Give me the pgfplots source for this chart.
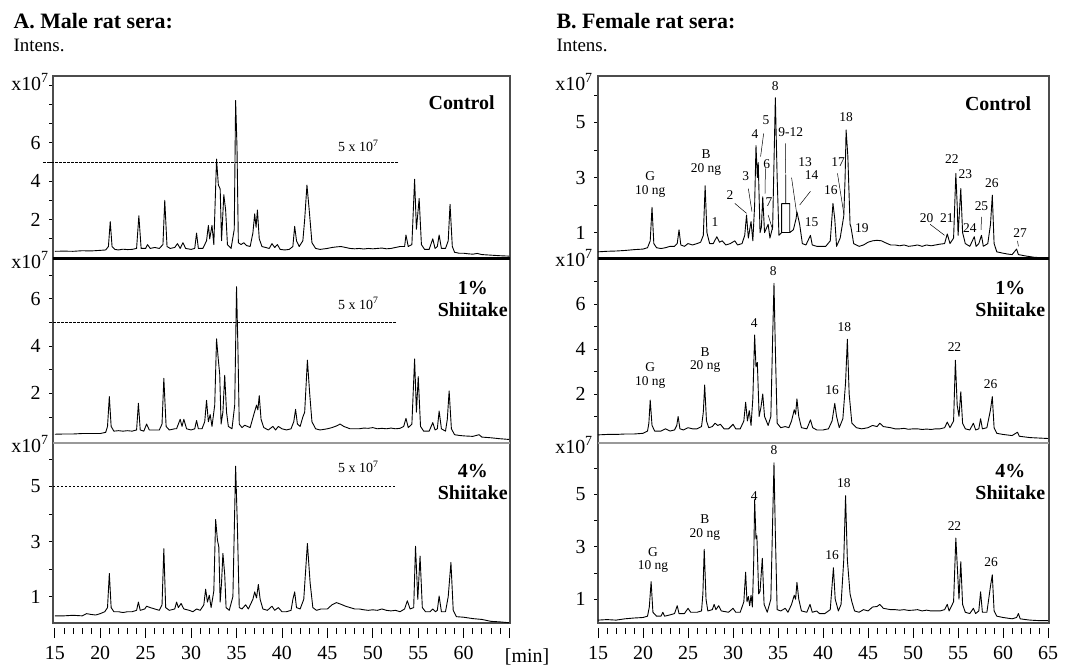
\documentclass[border=0pt]{standalone}
\usepackage{fontspec}
\setmainfont{Liberation Serif}
\usepackage{pgfplots}
\pgfplotsset{compat=1.18}

\newcommand\pk{\fontsize{13.5}{13.5}\selectfont}
\newcommand\ftick{\fontsize{20}{20}\selectfont}
\newcommand\fpanel{\fontsize{20}{22}\selectfont\bfseries}
\newcommand\fdash{\fontsize{14}{14}\selectfont}

\pgfplotsset{
  chrom/.style={
    scale only axis, clip=false, anchor=south west,
    axis line style={black!70, line width=1.2bp},
    xtick=\empty,
    ytick pos=left, tick align=outside,
    major tick length=4bp,
    tick style={black, line width=0.7bp},
    yticklabel style={font=\ftick, xshift=-5bp},
    /pgf/number format/assume math mode=true,
  },
  timescale/.style={
    scale only axis, anchor=south west, height=1bp,
    ymin=0, ymax=1, axis y line=none, axis x line*=bottom,
    x axis line style={draw=none},
    xtick={15,20,...,65}, minor xtick={16,...,64},
    tick align=outside, major tick length=10bp, minor tick length=6bp,
    tick style={black, line width=0.8bp},
    xticklabel style={font=\ftick, yshift=-5bp},
    /pgf/number format/assume math mode=true,
  },
}
\tikzset{
  trace/.style={black, line width=0.9bp, line join=round},
  ref/.style={black, line width=0.6bp, dash pattern=on 2.5bp off 1.5bp},
  lead/.style={black, line width=0.5bp},
}

\begin{document}
\begin{tikzpicture}
\useasboundingbox (0,0) rectangle (1085bp,671bp);

% ---------------- A. Male rat sera ----------------
\node[anchor=west, font=\fontsize{22}{22}\selectfont\bfseries] at (10bp,650bp) {A. Male rat sera:};
\node[anchor=west, font=\fontsize{19}{19}\selectfont] at (10bp,626bp) {Intens.};

% Control
\begin{axis}[chrom, at={(53bp,412bp)}, width=457bp, height=183bp,
  xmin=14.8, xmax=65.1, ymin=-0.05, ymax=9.48,
  ytick={1,...,9}, yticklabels={,2,,4,,6,,,}]
\addplot[trace] coordinates {(15,0.35)(16,0.36)(17,0.35)(18,0.38)(19,0.37)(20,0.4)(20.6,0.42)(20.9,0.6)(21.1,1.9)(21.3,0.6)(21.6,0.45)(22,0.42)(22.5,0.46)(23,0.44)(23.5,0.45)(24,0.5)(24.25,2.2)(24.5,0.5)(25,0.5)(25.2,0.7)(25.5,0.5)(26,0.55)(26.5,0.5)(26.9,0.7)(27.1,3.0)(27.35,0.6)(27.7,0.5)(28.2,0.55)(28.5,0.75)(28.8,0.5)(29.1,0.8)(29.4,0.5)(30,0.45)(30.4,0.5)(30.6,1.3)(30.8,0.5)(31.3,0.5)(31.7,0.9)(31.9,1.7)(32.05,1.0)(32.3,1.7)(32.5,0.7)(32.8,5.15)(33.0,3.8)(33.2,3.6)(33.35,0.9)(33.6,3.3)(33.8,2.5)(34.0,0.7)(34.4,0.5)(34.75,1.5)(34.9,8.2)(35.05,5.8)(35.2,0.8)(35.5,0.7)(35.8,0.8)(36.1,0.65)(36.5,0.6)(36.8,1.3)(37.0,2.3)(37.15,1.6)(37.3,2.5)(37.5,1.0)(37.8,0.6)(38.2,0.55)(38.6,0.5)(38.9,0.75)(39.2,0.55)(39.5,0.7)(39.8,0.45)(40.3,0.42)(40.8,0.45)(41.2,0.6)(41.4,1.65)(41.6,0.9)(41.9,0.6)(42.3,0.9)(42.5,2.0)(42.75,3.8)(43.0,2.5)(43.3,0.8)(43.7,0.5)(44.2,0.45)(45,0.5)(45.5,0.55)(46,0.58)(46.5,0.6)(47,0.55)(47.5,0.5)(48,0.48)(48.5,0.5)(49,0.47)(49.5,0.5)(50,0.48)(50.5,0.5)(51,0.52)(51.5,0.48)(52,0.5)(52.5,0.55)(53,0.6)(53.5,0.6)(53.65,1.2)(53.9,0.6)(54.3,0.7)(54.6,4.1)(54.8,1.5)(55.1,3.1)(55.35,0.7)(55.7,0.45)(56.2,0.45)(56.6,1.0)(56.85,0.5)(57.1,0.6)(57.3,1.2)(57.55,0.5)(58,0.5)(58.3,0.9)(58.5,2.8)(58.75,0.6)(59,0.3)(59.5,0.25)(60,0.25)(60.5,0.22)(61,0.2)(61.5,0.24)(62,0.18)(63,0.15)(64,0.12)(65,0.1)};
\draw[ref] (axis cs:13.7,5) -- (axis cs:52.8,5);
\node[font=\fdash] at (axis cs:48.4,5.83) {5 x 10\textsuperscript{7}};
\node[font=\fpanel, anchor=east] at (axis cs:63.8,8.07) {Control};
\end{axis}

% 1% Shiitake
\begin{axis}[chrom, at={(53bp,228bp)}, width=457bp, height=184bp,
  xmin=14.8, xmax=65.1, ymin=-0.1, ymax=7.67,
  ytick={1,...,7}, yticklabels={,2,,4,,6,}]
\addplot[trace] coordinates {(15,0.27)(16,0.28)(17,0.28)(18,0.3)(19,0.3)(20,0.3)(20.6,0.35)(20.8,0.6)(21.0,1.86)(21.2,0.6)(21.5,0.4)(22,0.42)(22.5,0.4)(23,0.42)(23.5,0.4)(24.0,0.45)(24.2,1.58)(24.4,0.45)(24.8,0.4)(25.1,0.7)(25.4,0.45)(26,0.45)(26.5,0.45)(26.8,0.7)(27.0,2.63)(27.25,0.6)(27.6,0.45)(28.2,0.5)(28.4,0.5)(28.8,0.9)(29.0,0.6)(29.2,0.9)(29.5,0.5)(30,0.45)(30.4,0.5)(30.6,0.85)(30.8,0.5)(31.2,0.5)(31.5,0.8)(31.7,1.7)(31.9,0.8)(32.1,1.1)(32.3,0.6)(32.6,1.5)(32.8,4.3)(33.0,3.4)(33.15,2.8)(33.3,0.7)(33.5,1.2)(33.7,2.76)(33.9,1.2)(34.1,0.6)(34.5,0.5)(34.8,1.5)(35.0,6.5)(35.15,4.0)(35.3,0.7)(35.6,0.55)(35.9,0.65)(36.2,0.6)(36.5,0.55)(36.9,1.1)(37.2,1.5)(37.35,1.3)(37.5,1.9)(37.7,0.9)(38,0.55)(38.5,0.45)(39.0,0.6)(39.3,0.45)(39.6,0.6)(40,0.5)(40.5,0.45)(41,0.5)(41.3,0.8)(41.5,1.32)(41.7,0.7)(42.0,0.6)(42.3,1.0)(42.5,1.2)(42.8,3.4)(43.05,2.0)(43.3,0.8)(43.7,0.5)(44.2,0.45)(45,0.5)(45.5,0.55)(46,0.62)(46.4,0.7)(46.8,0.6)(47.5,0.5)(48,0.5)(48.5,0.5)(49,0.53)(49.5,0.52)(50,0.55)(50.5,0.5)(51,0.52)(51.5,0.5)(52,0.53)(52.5,0.5)(53,0.52)(53.4,0.6)(53.65,0.94)(53.9,0.55)(54.3,0.7)(54.6,3.45)(54.8,1.2)(55.0,2.7)(55.25,0.6)(55.6,0.4)(56.2,0.4)(56.6,0.76)(56.85,0.45)(57.1,0.5)(57.3,1.25)(57.55,0.5)(58,0.4)(58.2,0.9)(58.4,2.1)(58.65,0.5)(59,0.25)(59.5,0.22)(60,0.2)(61,0.18)(61.7,0.25)(62,0.15)(63,0.12)(64,0.08)(65,0.05)};
\draw[ref] (axis cs:14.8,5) -- (axis cs:52.6,5);
\node[font=\fdash] at (axis cs:48.4,5.8) {5 x 10\textsuperscript{7}};
\node[font=\fpanel, align=center] at (axis cs:61.0,6.0) {1\%\\Shiitake};
\end{axis}

% 4% Shiitake
\begin{axis}[chrom, at={(53bp,48bp)}, width=457bp, height=180bp,
  xmin=14.8, xmax=65.1, ymin=0.04, ymax=6.58,
  ytick={1,...,6}, yticklabels={1,,3,,5,}]
\addplot[trace] coordinates {(15,0.3)(16,0.3)(17,0.32)(18,0.3)(18.5,0.38)(19,0.35)(19.5,0.33)(20,0.38)(20.5,0.45)(20.8,0.6)(21.0,1.84)(21.2,0.6)(21.5,0.45)(22,0.45)(22.5,0.42)(23,0.45)(23.5,0.45)(24.0,0.5)(24.2,0.8)(24.4,0.5)(24.9,0.55)(25.1,0.65)(25.5,0.6)(26,0.55)(26.5,0.5)(26.8,0.7)(27.0,2.74)(27.2,0.6)(27.6,0.5)(28.2,0.55)(28.4,0.8)(28.6,0.6)(28.9,0.75)(29.2,0.55)(29.8,0.5)(30.2,0.45)(30.6,0.55)(31,0.5)(31.4,0.7)(31.6,1.27)(31.8,0.8)(32.0,1.05)(32.2,0.6)(32.5,1.2)(32.7,3.8)(32.9,3.05)(33.05,2.8)(33.2,0.8)(33.35,1.5)(33.5,2.57)(33.7,1.8)(33.85,0.6)(34.2,0.5)(34.6,1.0)(34.9,5.74)(35.1,3.5)(35.3,0.6)(35.6,0.55)(36.0,0.7)(36.3,0.55)(36.8,0.9)(37.0,1.17)(37.2,0.95)(37.4,1.44)(37.6,0.9)(37.9,0.55)(38.4,0.5)(38.9,0.65)(39.2,0.5)(39.6,0.6)(40,0.45)(40.5,0.45)(41.0,0.5)(41.2,0.9)(41.4,1.17)(41.6,0.6)(42.0,0.55)(42.4,0.9)(42.8,2.93)(43.1,1.5)(43.4,0.6)(43.8,0.5)(44.3,0.55)(45,0.55)(45.5,0.7)(46,0.78)(46.5,0.72)(47,0.65)(47.5,0.6)(48,0.55)(48.5,0.55)(49,0.52)(49.5,0.5)(50,0.52)(50.5,0.5)(51,0.55)(51.5,0.5)(52,0.48)(52.5,0.5)(53,0.45)(53.5,0.55)(53.8,0.85)(54.1,0.55)(54.5,0.6)(54.7,2.83)(54.95,0.9)(55.2,2.47)(55.45,0.6)(55.8,0.45)(56.3,0.45)(56.6,0.55)(56.9,0.45)(57.1,0.5)(57.3,1.02)(57.55,0.45)(58,0.45)(58.3,1.0)(58.6,2.24)(58.85,0.5)(59.2,0.27)(60,0.25)(61,0.2)(62,0.17)(63,0.1)(64,0.08)(65,0.05)};
\draw[black, line width=0.9bp, dash pattern=on 2bp off 2bp] (axis cs:14.8,5) -- (axis cs:52.6,5);
\node[font=\fdash] at (axis cs:48.4,5.7) {5 x 10\textsuperscript{7}};
\node[font=\fpanel, align=center] at (axis cs:61.0,5.16) {4\%\\Shiitake};
\end{axis}

\begin{axis}[timescale, at={(53bp,43bp)}, width=457bp, xmin=14.8, xmax=65.1,
  xticklabels={15,20,25,30,35,40,45,50,55,60,{}}]
\end{axis}

% ---------------- B. Female rat sera ----------------
\node[anchor=west, font=\fontsize{22}{22}\selectfont\bfseries] at (553bp,650bp) {B. Female rat sera:};
\node[anchor=west, font=\fontsize{19}{19}\selectfont] at (553bp,626bp) {Intens.};

% Control
\begin{axis}[chrom, at={(598bp,412bp)}, width=451bp, height=183bp,
  xmin=15, xmax=65.1, ymin=0.04, ymax=6.69,
  ytick={1,...,6}, yticklabels={1,,3,,5,}]
\addplot[trace] coordinates {(15,0.3)(16,0.32)(17,0.33)(18,0.35)(19,0.38)(20,0.4)(20.5,0.45)(20.8,0.7)(21.0,1.92)(21.2,0.6)(21.5,0.45)(22,0.42)(22.5,0.45)(23,0.5)(23.5,0.5)(23.8,0.6)(24.0,1.1)(24.2,0.55)(24.6,0.5)(25,0.6)(25.5,0.55)(26,0.6)(26.4,0.65)(26.7,0.9)(26.9,2.7)(27.1,1.0)(27.4,0.6)(27.8,0.6)(28.2,0.85)(28.5,0.65)(28.8,0.7)(29.2,0.55)(29.7,0.6)(30.2,0.7)(30.5,0.55)(31.0,0.6)(31.3,0.9)(31.5,1.64)(31.7,0.8)(32.0,1.4)(32.2,0.7)(32.4,2.0)(32.55,4.16)(32.7,3.0)(32.8,3.54)(33.0,1.0)(33.15,1.2)(33.3,2.3)(33.5,1.0)(33.9,1.3)(34.1,0.8)(34.4,1.2)(34.7,5.9)(34.9,3.0)(35.1,0.9)(35.4,1.0)(35.4,2.05)(35.85,2.05)(35.85,3.1)(35.85,2.05)(36.3,2.05)(36.3,1.0)(36.7,1.1)(37.0,1.5)(37.1,1.75)(37.4,1.3)(37.7,0.6)(38.1,0.55)(38.6,0.9)(38.8,0.55)(39.3,0.5)(39.8,0.5)(40.3,0.5)(40.8,0.7)(41.1,2.06)(41.3,1.5)(41.5,0.5)(41.9,0.8)(42.3,1.6)(42.45,3.0)(42.56,4.73)(42.75,3.8)(43.0,1.3)(43.1,1.2)(43.4,0.6)(44,0.5)(44.5,0.55)(45,0.65)(45.5,0.7)(46,0.72)(46.5,0.7)(47,0.62)(47.5,0.55)(48,0.55)(48.5,0.52)(49,0.55)(49.5,0.5)(50,0.52)(50.5,0.55)(51,0.5)(51.5,0.55)(52,0.52)(52.5,0.55)(53,0.58)(53.5,0.6)(53.8,0.95)(54.1,0.6)(54.5,0.8)(54.75,3.15)(54.9,2.0)(55.0,0.9)(55.3,2.6)(55.5,1.0)(55.8,0.6)(56.3,0.5)(56.8,0.85)(57.0,0.5)(57.3,0.6)(57.6,0.9)(57.8,0.5)(58.3,0.6)(58.6,1.3)(58.8,2.36)(59.0,0.6)(59.3,0.3)(60,0.25)(60.5,0.22)(61,0.2)(61.5,0.4)(61.7,0.2)(62.5,0.15)(63.5,0.1)(65,0.08)};
\draw[lead] (axis cs:35.4,1.0) -- (axis cs:36.3,1.0);
\draw[lead] (axis cs:30.2,2.06) -- (axis cs:31.5,1.7);
\draw[lead] (axis cs:31.7,2.6) -- (axis cs:32.1,1.76);
\draw[lead] (axis cs:33.4,4.6) -- (axis cs:33.06,3.76);
\draw[lead] (axis cs:33.6,3.33) -- (axis cs:33.55,2.42);
\draw[lead] (axis cs:33.9,1.64) -- (axis cs:34.4,1.1);
\draw[lead] (axis cs:35.8,4.24) -- (axis cs:35.85,3.15);
\draw[lead] (axis cs:36.5,3.0) -- (axis cs:37.07,1.7);
\draw[lead] (axis cs:38.6,2.5) -- (axis cs:37.4,2.0);
\draw[lead] (axis cs:41.6,3.15) -- (axis cs:42.3,1.7);
\draw[lead] (axis cs:51.9,1.3) -- (axis cs:53.5,0.9);
\draw[lead] (axis cs:57.6,1.57) -- (axis cs:57.55,1.1);
\draw[lead] (axis cs:61.6,0.7) -- (axis cs:61.7,0.5);
\begin{scope}[every node/.style={font=\pk, inner sep=1bp}]
\node at (axis cs:34.7,6.33) {8};
\node at (axis cs:33.67,5.09) {5};
\node at (axis cs:32.44,4.58) {4};
\node at (axis cs:36.4,4.65) {9-12};
\node at (axis cs:33.74,3.49) {6};
\node at (axis cs:38.0,3.56) {13};
\node at (axis cs:38.74,3.09) {14};
\node at (axis cs:31.41,3.05) {3};
\node at (axis cs:29.67,2.36) {2};
\node at (axis cs:34.0,2.1) {7};
\node at (axis cs:28.0,1.38) {1};
\node at (axis cs:38.74,1.38) {15};
\node at (axis cs:40.86,2.55) {16};
\node at (axis cs:41.67,3.56) {17};
\node at (axis cs:42.56,5.2) {18};
\node at (axis cs:44.3,1.16) {19};
\node at (axis cs:51.5,1.53) {20};
\node at (axis cs:53.74,1.53) {21};
\node at (axis cs:54.3,3.67) {22};
\node at (axis cs:55.8,3.13) {23};
\node at (axis cs:56.3,1.16) {24};
\node at (axis cs:57.6,1.96) {25};
\node at (axis cs:58.74,2.8) {26};
\node at (axis cs:61.9,1.0) {27};
\node[align=center] at (axis cs:20.8,2.75) {G\\10 ng};
\node[align=center] at (axis cs:27.0,3.55) {B\\20 ng};
\end{scope}
\node[font=\fpanel, anchor=east] at (axis cs:63.5,5.7) {Control};
\end{axis}

% 1% Shiitake
\begin{axis}[chrom, at={(598bp,228bp)}, width=451bp, height=184bp,
  xmin=15, xmax=65.1, ymin=-0.18, ymax=8.0,
  ytick={1,...,7}, yticklabels={,2,,4,,6,}]
\addplot[trace] coordinates {(15,0.18)(16,0.2)(17,0.2)(18,0.22)(19,0.22)(20,0.25)(20.5,0.35)(20.65,0.7)(20.8,1.73)(21.0,0.6)(21.3,0.35)(22,0.35)(22.5,0.45)(23,0.35)(23.5,0.4)(23.75,0.6)(23.9,1.0)(24.1,0.45)(24.5,0.4)(25,0.5)(25.5,0.45)(26,0.45)(26.5,0.55)(26.7,1.2)(26.85,2.4)(27.05,0.8)(27.3,0.5)(27.7,0.55)(28.0,0.7)(28.3,0.6)(28.6,0.65)(29,0.45)(29.5,0.45)(30,0.65)(30.3,0.45)(30.8,0.45)(31.2,0.8)(31.4,1.63)(31.6,0.8)(31.8,1.26)(32.0,0.6)(32.2,1.8)(32.4,4.62)(32.55,3.2)(32.7,3.4)(32.9,1.0)(33.1,1.4)(33.3,2.0)(33.5,1.0)(33.9,0.6)(34.2,1.0)(34.4,4.5)(34.55,6.92)(34.7,4.0)(34.9,0.7)(35.3,0.5)(35.8,0.55)(36.2,0.5)(36.5,0.8)(36.8,1.3)(36.95,1.1)(37.1,1.78)(37.3,1.0)(37.6,0.5)(38.2,0.45)(38.6,0.85)(38.85,0.5)(39.3,0.4)(40,0.4)(40.6,0.45)(41.0,0.8)(41.3,1.58)(41.5,1.0)(41.8,0.5)(42.2,0.9)(42.5,2.5)(42.7,4.43)(42.9,2.0)(43.2,0.7)(43.7,0.5)(44.3,0.45)(45,0.5)(45.5,0.6)(46,0.55)(46.3,0.7)(46.7,0.55)(47.5,0.5)(48,0.45)(48.5,0.45)(49,0.47)(49.5,0.43)(50,0.45)(50.5,0.45)(51,0.42)(51.5,0.44)(52,0.42)(52.5,0.45)(53,0.45)(53.5,0.5)(53.8,0.75)(54.1,0.5)(54.5,0.8)(54.7,3.5)(54.9,1.5)(55.1,1.0)(55.3,2.1)(55.5,0.7)(55.8,0.45)(56.3,0.4)(56.7,0.7)(56.95,0.4)(57.3,0.45)(57.5,0.9)(57.7,0.45)(58.2,0.5)(58.6,1.3)(58.8,1.88)(59.0,0.5)(59.3,0.25)(60,0.2)(61,0.15)(61.6,0.3)(61.8,0.12)(63,0.06)(65,0.02)};
\begin{scope}[every node/.style={font=\pk, inner sep=1bp}]
\node at (axis cs:34.47,7.44) {8};
\node at (axis cs:32.36,5.17) {4};
\node at (axis cs:42.37,4.96) {18};
\node at (axis cs:54.6,4.07) {22};
\node at (axis cs:41.0,2.18) {16};
\node at (axis cs:58.6,2.44) {26};
\node[align=center] at (axis cs:20.8,2.82) {G\\10 ng};
\node[align=center] at (axis cs:26.9,3.5) {B\\20 ng};
\end{scope}
\node[font=\fpanel, align=center] at (axis cs:60.8,6.24) {1\%\\Shiitake};
\end{axis}

% 4% Shiitake
\begin{axis}[chrom, at={(598bp,48bp)}, width=451bp, height=180bp,
  xmin=15, xmax=65.1, ymin=0.09, ymax=6.96,
  ytick={1,...,6}, yticklabels={1,,3,,5,}]
\addplot[trace] coordinates {(15,0.2)(16,0.22)(17,0.2)(18,0.25)(19,0.28)(20,0.3)(20.5,0.35)(20.7,0.7)(20.9,1.67)(21.1,0.5)(21.5,0.35)(22,0.35)(22.2,0.5)(22.4,0.35)(23,0.4)(23.5,0.45)(23.8,0.75)(24.0,0.45)(24.6,0.45)(25.0,0.65)(25.3,0.5)(26,0.5)(26.5,0.55)(26.65,1.2)(26.8,2.9)(27.0,1.0)(27.2,0.55)(27.7,0.6)(27.9,0.8)(28.1,0.6)(28.4,0.75)(28.7,0.55)(29.5,0.5)(30.0,0.65)(30.3,0.5)(30.8,0.5)(31.2,0.9)(31.4,2.03)(31.55,0.9)(31.7,1.1)(31.85,0.75)(32.0,1.15)(32.15,0.7)(32.3,2.5)(32.4,4.8)(32.55,3.3)(32.65,3.42)(32.85,1.2)(33.0,1.3)(33.25,2.56)(33.45,0.8)(33.8,0.5)(34.2,1.0)(34.4,4.0)(34.55,6.2)(34.7,3.5)(34.9,0.6)(35.3,0.55)(35.8,0.65)(36.1,0.5)(36.5,0.8)(36.8,1.15)(36.95,1.0)(37.1,1.64)(37.3,1.0)(37.6,0.55)(38.2,0.5)(38.55,0.8)(38.8,0.5)(39.3,0.55)(39.6,0.45)(40.2,0.45)(40.8,0.6)(41.15,2.2)(41.35,1.0)(41.7,0.55)(42.0,0.8)(42.3,2.5)(42.5,4.95)(42.7,2.5)(43.0,1.2)(43.2,0.9)(43.5,0.55)(44,0.5)(44.5,0.6)(45,0.55)(45.5,0.7)(46,0.72)(46.3,0.8)(46.7,0.65)(47.5,0.6)(48,0.6)(48.5,0.58)(49,0.6)(49.5,0.57)(50,0.58)(50.5,0.6)(51,0.55)(51.5,0.58)(52,0.55)(52.5,0.55)(53,0.55)(53.5,0.6)(53.8,0.8)(54.0,0.55)(54.5,0.9)(54.75,3.33)(54.95,2.0)(55.1,1.0)(55.3,2.43)(55.5,0.8)(55.8,0.5)(56.3,0.45)(56.7,0.65)(56.95,0.45)(57.3,0.55)(57.5,1.28)(57.7,0.5)(58.2,0.5)(58.6,1.5)(58.8,1.93)(59.0,0.55)(59.3,0.35)(60,0.3)(61,0.25)(61.5,0.3)(61.7,0.45)(61.9,0.25)(62.5,0.22)(63,0.2)(64,0.18)(65,0.18)};
\begin{scope}[every node/.style={font=\pk, inner sep=1bp}]
\node at (axis cs:34.55,6.7) {8};
\node at (axis cs:32.36,4.92) {4};
\node at (axis cs:42.3,5.43) {18};
\node at (axis cs:41.0,2.69) {16};
\node at (axis cs:54.6,3.8) {22};
\node at (axis cs:58.66,2.4) {26};
\node[align=center] at (axis cs:21.1,2.5) {G\\10 ng};
\node[align=center] at (axis cs:26.87,3.73) {B\\20 ng};
\end{scope}
\node[font=\fpanel, align=center] at (axis cs:60.8,5.47) {4\%\\Shiitake};
\end{axis}

\begin{axis}[timescale, at={(598bp,43bp)}, width=451bp, xmin=15, xmax=65.1,
  xticklabels={15,20,25,30,35,40,45,50,55,60,65}]
\end{axis}

% panel separators
\draw[black, line width=3bp] (53bp,412bp) -- (510bp,412bp);
\draw[black, line width=3bp] (598bp,412bp) -- (1049bp,412bp);
\draw[black!40, line width=2.5bp] (53bp,228bp) -- (510bp,228bp);
\draw[black!40, line width=2.5bp] (598bp,228bp) -- (1049bp,228bp);

% x10^7 markers
\begin{scope}[every node/.style={font=\ftick}]
\node at (30bp,589bp) {x10\textsuperscript{7}};
\node at (30bp,411bp) {x10\textsuperscript{7}};
\node at (30bp,227bp) {x10\textsuperscript{7}};
\node at (574bp,589bp) {x10\textsuperscript{7}};
\node at (574bp,413bp) {x10\textsuperscript{7}};
\node at (574bp,226bp) {x10\textsuperscript{7}};
\end{scope}
\node[font=\ftick] at (527bp,14bp) {[min]};
\end{tikzpicture}
\end{document}
